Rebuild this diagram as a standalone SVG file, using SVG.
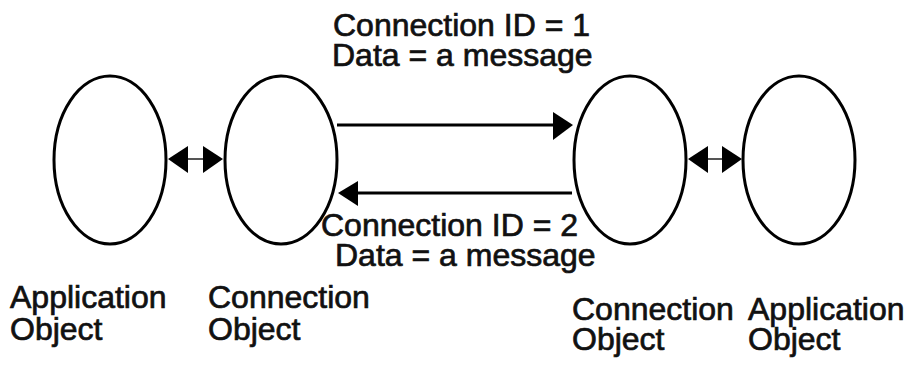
<svg xmlns="http://www.w3.org/2000/svg" width="912" height="365" viewBox="0 0 912 365">
<style>
.node{fill:#fff;stroke:#000;stroke-width:3}
.t{font-family:"Liberation Sans",Arial,sans-serif;font-size:32px;fill:#111;stroke:#111;stroke-width:0.7}
.ln{stroke:#000;stroke-width:3;fill:none}
.thin{stroke:#555;stroke-width:2;fill:none}
.head{fill:#000}
</style>
<rect width="912" height="365" fill="#fff"/>
<g id="app1"><ellipse class="node" cx="110" cy="160" rx="56" ry="84"/>
<text class="t" x="10" y="308">Application</text><text class="t" x="10" y="340">Object</text></g>
<g id="conn1"><ellipse class="node" cx="281" cy="160" rx="56" ry="84"/>
<text class="t" x="208" y="308">Connection</text><text class="t" x="208" y="340">Object</text></g>
<g id="conn2"><ellipse class="node" cx="630" cy="160" rx="56" ry="84"/>
<text class="t" x="572" y="320">Connection</text><text class="t" x="572" y="350">Object</text></g>
<g id="app2"><ellipse class="node" cx="799" cy="160" rx="56" ry="84"/>
<text class="t" x="748" y="320">Application</text><text class="t" x="748" y="350">Object</text></g>
<g id="connectors">
<line class="thin" x1="186" y1="159" x2="205" y2="159"/>
<polygon class="head" points="168,159 188,146 188,173"/>
<polygon class="head" points="223,159 203,146 203,173"/>
<line class="thin" x1="706" y1="159" x2="724" y2="159"/>
<polygon class="head" points="688,159 708,146 708,173"/>
<polygon class="head" points="742,159 722,146 722,173"/>
<line class="ln" x1="337" y1="125" x2="556" y2="125"/>
<polygon class="head" points="573,125 553,112 553,140"/>
<line class="ln" x1="572" y1="193" x2="355" y2="193"/>
<polygon class="head" points="338,193 358,181 358,206"/>
<text class="t" x="333" y="36">Connection ID = 1</text>
<text class="t" x="332" y="66">Data = a message</text>
<text class="t" x="321" y="236">Connection ID = 2</text>
<text class="t" x="335" y="266">Data = a message</text>
</g>
</svg>
